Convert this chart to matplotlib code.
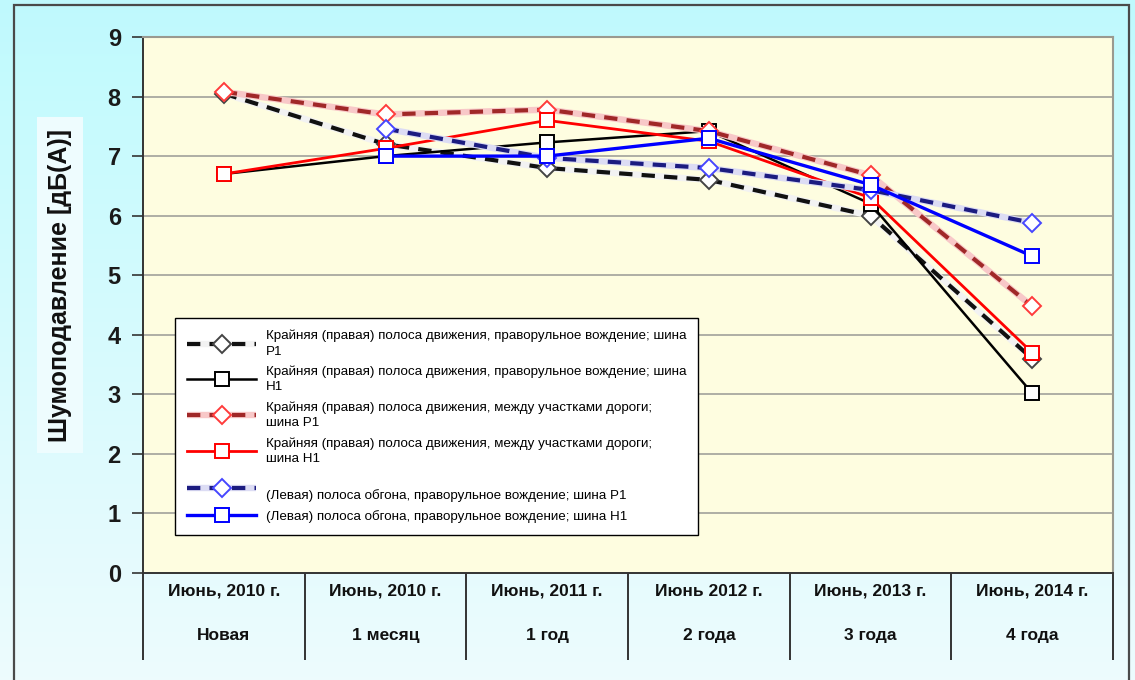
import numpy as np
import matplotlib
matplotlib.use("Agg")
import matplotlib.pyplot as plt
from matplotlib.patches import Rectangle

plt.rcParams['font.family'] = ['Liberation Sans', 'DejaVu Sans']

# Test periods (two-line category labels)
periods = ["Июнь, 2010 г.", "Июнь, 2010 г.", "Июнь, 2011 г.",
           "Июнь 2012 г.", "Июнь, 2013 г.", "Июнь, 2014 г."]
ages = ["Новая", "1 месяц", "1 год", "2 года", "3 года", "4 года"]

# Noise reduction, dB(A); None where the series has no measurement
right_rhd_p1 = [8.05, 7.2, 6.8, 6.6, 6.0, 3.6]
right_rhd_h1 = [6.7, 7.0, 7.23, 7.42, 6.2, 3.02]
right_between_p1 = [8.08, 7.7, 7.78, 7.42, 6.68, 4.48]
right_between_h1 = [6.7, 7.13, 7.6, 7.25, 6.3, 3.7]
left_rhd_p1 = [None, 7.46, 6.97, 6.8, 6.43, 5.88]
left_rhd_h1 = [None, 7.0, 7.0, 7.3, 6.52, 5.32]

labels = [
    "Крайняя (правая) полоса движения, праворульное вождение; шина\nP1",
    "Крайняя (правая) полоса движения, праворульное вождение; шина\nH1",
    "Крайняя (правая) полоса движения, между участками дороги;\nшина P1",
    "Крайняя (правая) полоса движения, между участками дороги;\nшина H1",
    " \n(Левая) полоса обгона, праворульное вождение; шина P1",
    "(Левая) полоса обгона, праворульное вождение; шина H1",
]

W, H = 1135, 680
fig = plt.figure(figsize=(W / 100, H / 100), dpi=100)

# background gradient for the whole chart area
bg = fig.add_axes([0, 0, 1, 1], zorder=-10)
grad = np.linspace(0, 1, 256).reshape(-1, 1)
top_c = np.array([0.75, 0.98, 0.995])
bot_c = np.array([0.93, 0.985, 0.995])
img = top_c[None, None, :] * (1 - grad[:, :, None]) + bot_c[None, None, :] * grad[:, :, None]
bg.imshow(img, aspect='auto', extent=[0, 1, 0, 1])
bg.set_xlim(0, 1)
bg.set_ylim(0, 1)
bg.axis('off')
fig.patches.append(Rectangle((14 / W, -0.01), (1129 - 14) / W, 1 - 5 / H + 0.01,
                             transform=fig.transFigure, fill=False,
                             edgecolor='#4a4a4a', lw=1.6, zorder=5))

ax = fig.add_axes([143 / W, 1 - 573 / H, (1113 - 143) / W, (573 - 37) / H])
ax.set_facecolor('#fefde0')
x = np.arange(len(periods))


def vals(series):
    return np.array([np.nan if v is None else v for v in series], dtype=float)


def dashed(series, dark, light, edge):
    y = vals(series)
    under, = ax.plot(x, y, color=light, lw=4.6, solid_capstyle='butt', zorder=3)
    top, = ax.plot(x, y, color=dark, lw=3.0, dashes=(3.2, 2.2), zorder=3,
                   marker='D', ms=9.5, mfc='white', mec=edge, mew=1.4)
    return (under, top)


def solid(series, color, lw):
    y = vals(series)
    line, = ax.plot(x, y, color=color, lw=lw, zorder=3,
                    marker='s', ms=9.5, mfc='white', mec=color, mew=1.4)
    return line


h1 = dashed(right_rhd_p1, '#111111', '#f2f2f2', '#444444')
h2 = solid(right_rhd_h1, 'black', 1.8)
h3 = dashed(right_between_p1, '#a02828', '#f8c8c8', '#ff3b3b')
h4 = solid(right_between_h1, '#ff0000', 2.0)
h5 = dashed(left_rhd_p1, '#1c1c80', '#dcdcf4', '#4646ff')
h6 = solid(left_rhd_h1, '#0000ff', 2.4)

ax.set_xlim(-0.5, 5.5)
ax.set_ylim(0, 9)
ax.set_yticks(range(10))
ax.set_yticklabels([str(i) for i in range(10)], fontsize=17, fontweight='bold', color='#1a1a1a')
ax.tick_params(axis='y', length=8, width=1.2, color='#333333', pad=8)
ax.set_xticks([])
for yv in range(1, 9):
    ax.axhline(yv, color='#a8a8a0', lw=1.3, zorder=1)
ax.spines['top'].set_color('#9a9a90')
ax.spines['right'].set_color('#9a9a90')
ax.spines['top'].set_linewidth(1.5)
ax.spines['right'].set_linewidth(1.5)
ax.spines['left'].set_color('#333333')
ax.spines['bottom'].set_color('#333333')
ax.spines['left'].set_linewidth(1.4)
ax.spines['bottom'].set_linewidth(1.4)

# category table under the axis
ax.vlines(np.arange(-0.5, len(periods)), -1.46, 0, colors='#333333', lw=1.4, clip_on=False)
tr = ax.get_xaxis_transform()
for i, (p, a) in enumerate(zip(periods, ages)):
    ax.text(i, -0.034, p, transform=tr, ha='center', va='center',
            fontsize=12.5, fontweight='bold', color='#111111')
    ax.text(i, -0.116, a, transform=tr, ha='center', va='center',
            fontsize=12.5, fontweight='bold', color='#111111')

fig.text(60 / W, 1 - 285 / H, "Шумоподавление [дБ(А)]", rotation=90,
         ha='center', va='center', fontsize=18, fontweight='bold', color='#111111',
         bbox=dict(boxstyle='square,pad=0.45', facecolor='#eefcfe', edgecolor='none'))

leg = ax.legend([h1, h2, h3, h4, h5, h6], labels, loc='upper left',
                bbox_to_anchor=(0.033, 0.476), fontsize=9.6, frameon=True,
                fancybox=False, edgecolor='black', framealpha=1,
                handlelength=5.2, handletextpad=0.7, labelspacing=0.62,
                borderpad=0.9, borderaxespad=0)
for t in leg.get_texts():
    t.set_linespacing(1.35)
leg.get_frame().set_linewidth(1.0)
leg.set_zorder(6)

fig.savefig("out.png", dpi=100)
